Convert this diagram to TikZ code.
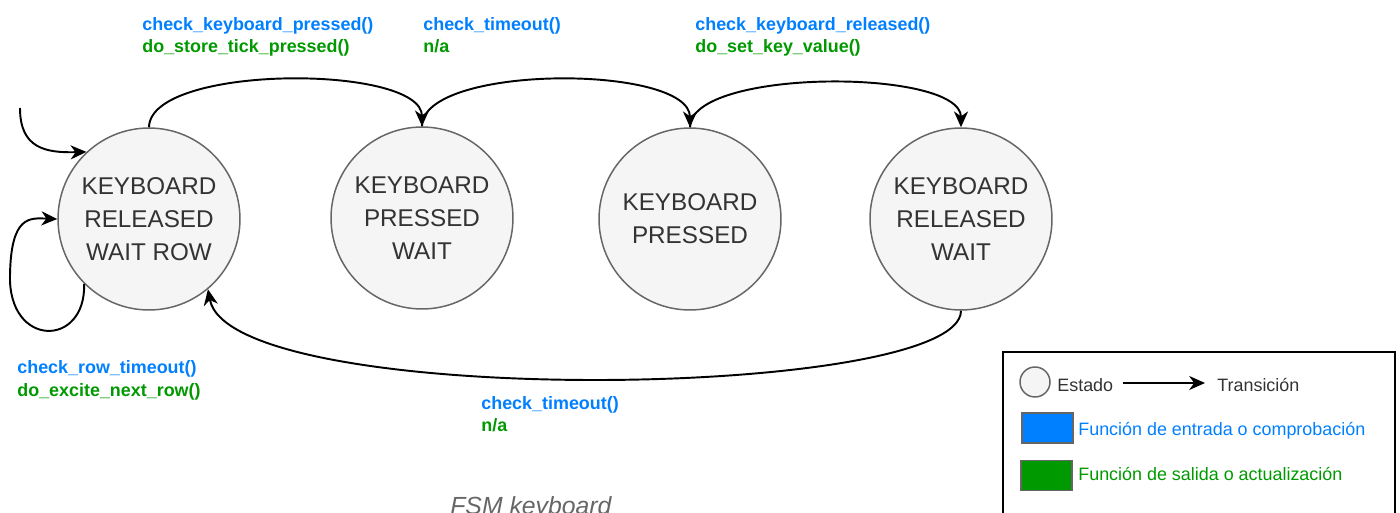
\documentclass[tikz,border=0pt]{standalone}
\usepackage{fontspec}
\setmainfont{Liberation Sans}
\usetikzlibrary{arrows.meta}
\definecolor{cblue}{HTML}{007FFF}
\definecolor{cgreen}{HTML}{009900}
\definecolor{sfill}{HTML}{F5F5F5}
\definecolor{sdraw}{HTML}{666666}
\definecolor{stext}{HTML}{333333}
\definecolor{capgray}{HTML}{666666}
\begin{document}
\begin{tikzpicture}[x=0.02cm,y=-0.02cm,
  state/.style={circle, draw=sdraw, fill=sfill, line width=0.85pt, minimum size=3.64cm, inner sep=0pt, align=center, text=stext, font=\fontsize{13.8}{18.7}\selectfont},
  trans/.style={line width=1.1pt, -{Stealth[length=9pt,width=8pt,inset=2.8pt]}},
  inlbl/.style={anchor=base west, inner sep=0pt, text=cblue, font=\bfseries\fontsize{10.2}{12.5}\selectfont},
  outlbl/.style={inlbl, text=cgreen},
  legtext/.style={anchor=base west, inner sep=0pt, font=\fontsize{10.2}{12.5}\selectfont},
  swatch/.style={draw=sdraw, line width=1pt, minimum width=1.02cm, minimum height=0.6cm, inner sep=0pt}
]
\useasboundingbox (0,0) rectangle (1400,513);

% states
\node[state] (s1) at (149,219) {KEYBOARD\\RELEASED\\WAIT ROW};
\node[state] (s2) at (422,218) {KEYBOARD\\PRESSED\\WAIT};
\node[state] (s3) at (690,219) {KEYBOARD\\PRESSED};
\node[state] (s4) at (961,219) {KEYBOARD\\RELEASED\\WAIT};

% transitions
\coordinate (init) at (20,108);
\draw[trans] (init) .. controls (20,148) and (45,153) .. (s1.133);
\draw[trans] (s1.225) .. controls (86,348) and (8,348) .. (10,275) .. controls (11,215) and (30,218) .. (s1.west);
\draw[trans] (s1.north) .. controls (150,64) and (422,64) .. (s2.north);
\draw[trans] (s2.north) .. controls (422,64) and (690,64) .. (s3.north);
\draw[trans] (s3.north) .. controls (690,68) and (961,68) .. (s4.north);
\draw[trans] (s4.south) .. controls (961,400) and (230,410) .. (s1.-50);

% labels
\node[inlbl] (l1a) at (142,31) {check\_keyboard\_pressed()};
\node[outlbl] (l1b) at (142,53) {do\_store\_tick\_pressed()};
\node[inlbl] (l2a) at (423,31) {check\_timeout()};
\node[outlbl] (l2b) at (423,53) {n/a};
\node[inlbl] (l3a) at (695,31) {check\_keyboard\_released()};
\node[outlbl] (l3b) at (695,53) {do\_set\_key\_value()};
\node[inlbl] (l4a) at (17,374) {check\_row\_timeout()};
\node[outlbl] (l4b) at (17,396) {do\_excite\_next\_row()};
\node[inlbl] (l5a) at (481,409) {check\_timeout()};
\node[outlbl] (l5b) at (481,431) {n/a};

% caption
\node[anchor=base west, inner sep=0pt, text=capgray, font=\itshape\fontsize{14.1}{16}\selectfont] (cap) at (450,514) {FSM keyboard};

% legend
\draw[line width=1.1pt] (1003,513) -- (1003,352) -- (1395,352) -- (1395,513);
\node[circle, draw=sdraw, fill=sfill, line width=0.85pt, minimum size=0.6cm, inner sep=0pt] (lcirc) at (1035,382) {};
\node[legtext, text=stext] (lest) at (1057,391) {Estado};
\coordinate (la1) at (1123,383);
\coordinate (la2) at (1205,383);
\draw[trans] (la1) -- (la2);
\node[legtext, text=stext] (ltr) at (1217,391) {Transición};
\node[swatch, fill=cblue] (lblue) at (1047.5,428) {};
\node[legtext, text=cblue] (lbt) at (1078,435) {Función de entrada o comprobación};
\node[swatch, fill=cgreen] (lgreen) at (1046.5,475.5) {};
\node[legtext, text=cgreen] (lgt) at (1078,480) {Función de salida o actualización};
\end{tikzpicture}
\end{document}
